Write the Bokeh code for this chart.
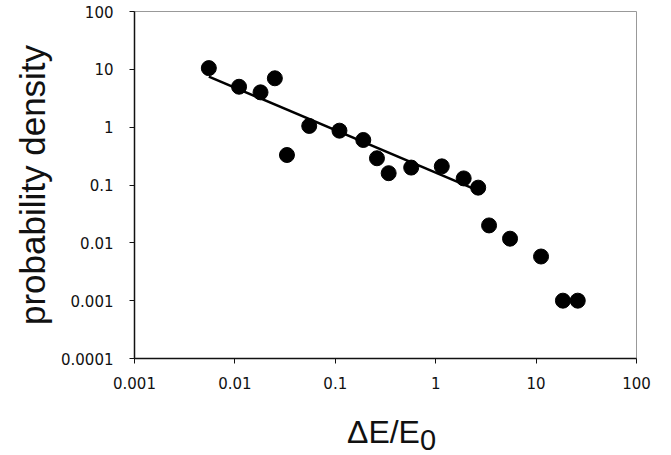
from bokeh.plotting import figure
from bokeh.models import FixedTicker, CustomJSTickFormatter, Div
from bokeh.layouts import column
from bokeh.embed import file_html
from bokeh.resources import INLINE

# ---- data ----
x_data = [0.0055, 0.011, 0.018, 0.025, 0.033, 0.055, 0.11, 0.19, 0.26, 0.34,
          0.57, 1.15, 1.9, 2.65, 3.4, 5.5, 11.2, 18.5, 26.0]
y_data = [10.5, 5.0, 4.0, 7.0, 0.33, 1.05, 0.87, 0.6, 0.29, 0.16,
          0.2, 0.21, 0.13, 0.09, 0.02, 0.0118, 0.0058, 0.001, 0.001]
fit_x = [0.0055, 2.65]
fit_y = [7.5, 0.08]
x_ticks = [0.001, 0.01, 0.1, 1, 10, 100]
y_ticks = [0.0001, 0.001, 0.01, 0.1, 1, 10, 100]
x_title = "ΔE/E"
x_title_sub = "0"
y_title = "probability density"

p = figure(width=671, height=405, x_axis_type="log", y_axis_type="log",
           x_range=(x_ticks[0], x_ticks[-1]), y_range=(y_ticks[0], y_ticks[-1]),
           output_backend="svg", toolbar_location=None,
           min_border_left=134, min_border_right=35, min_border_top=11,
           min_border_bottom=47)
p.background_fill_color = "white"
p.border_fill_color = "white"
p.outline_line_color = "#999999"
p.outline_line_width = 1
p.grid.visible = False

fmt = CustomJSTickFormatter(code="return Number(tick.toPrecision(6)).toString();")
p.xaxis.ticker = FixedTicker(ticks=x_ticks, minor_ticks=[])
p.yaxis.ticker = FixedTicker(ticks=y_ticks, minor_ticks=[])
p.xaxis.formatter = fmt
p.yaxis.formatter = fmt

for ax in (p.xaxis[0], p.yaxis[0]):
    ax.axis_line_color = "#111111"
    ax.axis_line_width = 1.5
    ax.major_tick_line_color = "#111111"
    ax.major_tick_line_width = 1
    ax.major_tick_out = 5
    ax.major_tick_in = 0
    ax.minor_tick_out = 0
    ax.minor_tick_in = 0
    ax.major_label_text_font = "DejaVu Sans"
    ax.major_label_text_font_size = "15px"
    ax.major_label_text_color = "#111111"

p.xaxis.major_label_standoff = 13
p.yaxis.major_label_standoff = 16

p.yaxis.axis_label = y_title
p.yaxis.axis_label_text_font = "Liberation Sans"
p.yaxis.axis_label_text_font_size = "35px"
p.yaxis.axis_label_text_font_style = "normal"
p.yaxis.axis_label_text_color = "#111111"
p.yaxis.axis_label_standoff = 6

p.line(fit_x, fit_y, line_color="black", line_width=2.5)
p.scatter(x_data, y_data, size=15, fill_color="black", line_color="black")

title_html = (x_title +
              '<span style="font-size:29px;position:relative;top:7px;">' +
              x_title_sub + '</span>')
div = Div(text=title_html, width=671, height=50,
          styles={"font-family": "Liberation Sans", "font-size": "32px",
                  "line-height": "32px", "color": "#111111",
                  "padding-left": "342px", "padding-top": "6px",
                  "box-sizing": "border-box", "background": "white"})

layout = column(p, div, spacing=0)
open("out.html", "w").write(file_html(layout, INLINE))
